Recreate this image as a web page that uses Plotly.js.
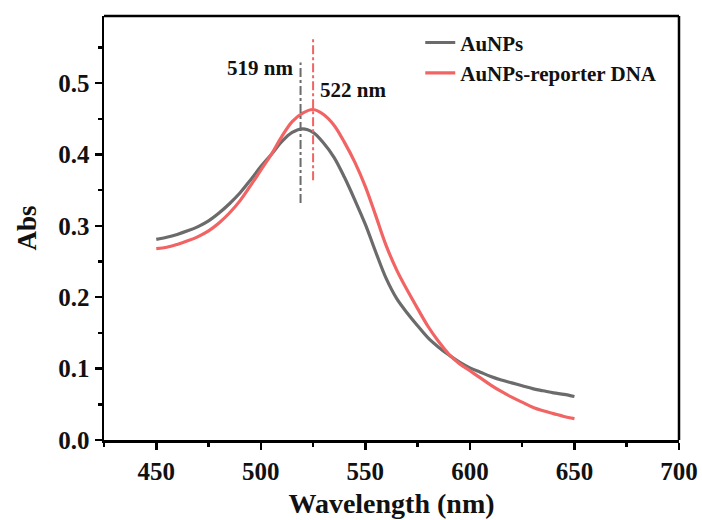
<!DOCTYPE html>
<html>
<head>
<meta charset="utf-8">
<script src="https://cdn.plot.ly/plotly-3.0.1.min.js"></script>
<style>html,body{margin:0;padding:0;background:#fff;}#chart{width:702px;height:520px;}</style>
</head>
<body>
<div id="chart"></div>
<script>
var wavelength = [450,455,460,465,470,475,480,485,490,495,500,505,510,515,520,525,530,535,540,545,550,555,560,565,570,575,580,585,590,595,600,605,610,615,620,625,630,635,640,645,650];
var absAuNPs = [0.281,0.284,0.288,0.293,0.299,0.307,0.318,0.331,0.346,0.364,0.383,0.400,0.418,0.431,0.436,0.431,0.416,0.396,0.368,0.336,0.302,0.263,0.226,0.198,0.178,0.160,0.143,0.130,0.119,0.109,0.101,0.095,0.089,0.084,0.080,0.076,0.072,0.069,0.066,0.064,0.061];
var absReporter = [0.268,0.270,0.274,0.279,0.285,0.293,0.304,0.318,0.335,0.356,0.378,0.400,0.425,0.446,0.458,0.463,0.456,0.441,0.417,0.389,0.355,0.314,0.272,0.238,0.210,0.184,0.159,0.138,0.120,0.107,0.097,0.087,0.077,0.068,0.060,0.053,0.046,0.041,0.037,0.033,0.030];
var seriesNames = ["AuNPs", "AuNPs-reporter DNA"];
var peakLabels = ["519 nm", "522 nm"];
var peakLineX = [519, 525];
var peakLineY0 = [0.332, 0.364];
var peakLineY1 = [0.529, 0.563];

var gray = "#6b6b6b", red = "#f26464";
var font = "'Liberation Serif', 'Times New Roman', serif";

var traces = [
  {x: wavelength, y: absAuNPs, name: seriesNames[0], mode: "lines", line: {color: gray, width: 3.2, shape: "spline", smoothing: 1}},
  {x: wavelength, y: absReporter, name: seriesNames[1], mode: "lines", line: {color: red, width: 3.2, shape: "spline", smoothing: 1}}
];

var layout = {
  width: 702, height: 520,
  margin: {l: 104, r: 23, t: 16, b: 80},
  paper_bgcolor: "#fff", plot_bgcolor: "#fff",
  font: {family: font, color: "#111", size: 22},
  showlegend: true,
  legend: {x: 0.55, y: 0.985, xanchor: "left", yanchor: "top", bgcolor: "rgba(0,0,0,0)",
           font: {family: font, size: 21, color: "#111", weight: "bold"}, tracegroupgap: 0},
  xaxis: {range: [425, 700], tickvals: [450,500,550,600,650,700], showgrid: false, zeroline: false,
          showline: true, linecolor: "#000", linewidth: 2.5, mirror: false,
          ticks: "outside", ticklen: 7, tickwidth: 2.5, tickcolor: "#000",
          minor: {dtick: 25, tick0: 425, ticks: "outside", ticklen: 4, tickwidth: 2.5, tickcolor: "#000"},
          tickfont: {family: font, size: 25, weight: "bold", color: "#111"},
          title: {text: "Wavelength (nm)", font: {family: font, size: 28, weight: "bold", color: "#111"}, standoff: 10}},
  yaxis: {range: [0, 0.594], tickvals: [0,0.1,0.2,0.3,0.4,0.5], ticktext: ["0.0","0.1","0.2","0.3","0.4","0.5"],
          showgrid: false, zeroline: false,
          showline: true, linecolor: "#000", linewidth: 2.5, mirror: false,
          ticks: "outside", ticklen: 7, tickwidth: 2.5, tickcolor: "#000",
          minor: {dtick: 0.05, tick0: 0, ticks: "outside", ticklen: 4, tickwidth: 2.5, tickcolor: "#000"},
          tickfont: {family: font, size: 25, weight: "bold", color: "#111"},
          title: {text: "Abs", font: {family: font, size: 27, weight: "bold", color: "#111"}, standoff: 14}},
  shapes: [
    {type: "line", xref: "x domain", yref: "y domain", x0: 0, x1: 1, y0: 1, y1: 1, line: {color: "#000", width: 2.5}},
    {type: "line", xref: "x domain", yref: "y domain", x0: 1, x1: 1, y0: 0, y1: 1, line: {color: "#000", width: 2.5}},
    {type: "line", xref: "x", yref: "y", x0: peakLineX[0], x1: peakLineX[0], y0: peakLineY0[0], y1: peakLineY1[0],
     line: {color: gray, width: 2, dash: "dashdot"}},
    {type: "line", xref: "x", yref: "y", x0: peakLineX[1], x1: peakLineX[1], y0: peakLineY0[1], y1: peakLineY1[1],
     line: {color: red, width: 2, dash: "dashdot"}}
  ],
  annotations: [
    {x: peakLineX[0] - 2.5, y: 0.521, xref: "x", yref: "y", text: peakLabels[0], showarrow: false, xanchor: "right",
     font: {family: font, size: 21, weight: "bold", color: "#111"}},
    {x: peakLineX[1] + 2.5, y: 0.491, xref: "x", yref: "y", text: peakLabels[1], showarrow: false, xanchor: "left",
     font: {family: font, size: 21, weight: "bold", color: "#111"}}
  ]
};

Plotly.newPlot("chart", traces, layout, {displayModeBar: false, staticPlot: true});
</script>
</body>
</html>
